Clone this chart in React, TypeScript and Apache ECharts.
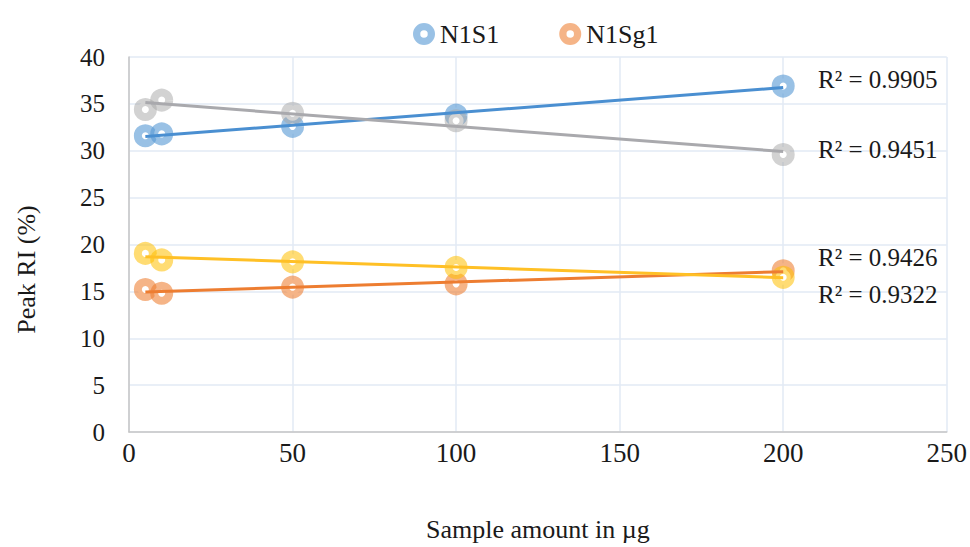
import React, { useEffect, useRef } from "react";
import * as echarts from "echarts";

const xValues = [5, 10, 50, 100, 200];
const n1s1 = [31.6, 31.8, 32.6, 33.8, 36.9];
const n1sg1 = [15.2, 14.8, 15.45, 15.8, 17.2];
const series3 = [34.4, 35.4, 34.0, 33.2, 29.6];
const series4 = [19.05, 18.35, 18.15, 17.55, 16.5];
const r2Labels = ["R² = 0.9905", "R² = 0.9451", "R² = 0.9426", "R² = 0.9322"];
const xTicks = { min: 0, max: 250, interval: 50 };
const yTicks = { min: 0, max: 40, interval: 5 };

const FONT = "Liberation Serif";

function trend(xs: number[], ys: number[]) {
  const n = xs.length;
  const mx = xs.reduce((a, b) => a + b, 0) / n;
  const my = ys.reduce((a, b) => a + b, 0) / n;
  let sxy = 0, sxx = 0;
  for (let i = 0; i < n; i++) {
    sxy += (xs[i] - mx) * (ys[i] - my);
    sxx += (xs[i] - mx) * (xs[i] - mx);
  }
  const b = sxy / sxx;
  const a = my - b * mx;
  const x0 = Math.min(...xs), x1 = Math.max(...xs);
  return [[x0, a + b * x0], [x1, a + b * x1]];
}

const ringPath =
  "path://M0,-10A10,10 0 1,1 0,10A10,10 0 1,1 0,-10ZM0,-3.4A3.4,3.4 0 1,0 0,3.4A3.4,3.4 0 1,0 0,-3.4Z";

export default function App() {
  const ref = useRef<HTMLDivElement>(null);
  useEffect(() => {
    if (!ref.current) return;
    const chart = echarts.init(ref.current, undefined, { renderer: "svg" });
    const defs = [
      { name: "N1S1", ys: n1s1, ring: "rgba(91,155,213,0.62)", line: "#4a8fd1" },
      { name: "N1Sg1", ys: n1sg1, ring: "rgba(237,125,49,0.58)", line: "#ed7d31" },
      { name: "Series 3", ys: series3, ring: "rgba(165,165,165,0.5)", line: "#a9a9ad" },
      { name: "Series 4", ys: series4, ring: "rgba(255,192,0,0.55)", line: "#ffc026" },
    ];
    const scatter = defs.map((d) => ({
      name: d.name,
      type: "scatter",
      symbol: "circle",
      symbolSize: 15,
      itemStyle: { color: "#ffffff", borderColor: d.ring, borderWidth: 8, opacity: 1 },
      data: xValues.map((x, i) => [x, d.ys[i]]),
      z: 2,
    }));
    const lines = defs.map((d) => ({
      name: d.name + " trend",
      type: "line",
      showSymbol: false,
      symbol: "none",
      lineStyle: { color: d.line, width: 3 },
      data: trend(xValues, d.ys),
      z: 3,
      silent: true,
    }));
    const r2Y = [80, 150, 258, 295];
    chart.setOption({
      animation: false,
      textStyle: { fontFamily: FONT },
      legend: {
        left: 408,
        top: 16,
        itemWidth: 22,
        itemHeight: 22,
        itemGap: 60,
        textStyle: { fontFamily: FONT, fontSize: 26, color: "#1a1a1a" },
        data: [
          { name: "N1S1", icon: ringPath, itemStyle: { color: "rgba(91,155,213,0.62)", borderWidth: 0 } },
          { name: "N1Sg1", icon: ringPath, itemStyle: { color: "rgba(237,125,49,0.58)", borderWidth: 0 } },
        ],
      },
      grid: { left: 129, right: 23, top: 57, bottom: 115, containLabel: false },
      xAxis: {
        type: "value",
        min: xTicks.min,
        max: xTicks.max,
        interval: xTicks.interval,
        name: "Sample amount in µg",
        nameLocation: "middle",
        nameGap: 84,
        nameTextStyle: { fontFamily: FONT, fontSize: 26, color: "#1a1a1a" },
        axisLine: { show: true, lineStyle: { color: "#c6c6c6", width: 1.5 } },
        axisTick: { show: false },
        axisLabel: { fontFamily: FONT, fontSize: 27, color: "#1a1a1a", margin: 7 },
        splitLine: { show: true, lineStyle: { color: "#e2eaf4", width: 1.5 } },
      },
      yAxis: {
        type: "value",
        min: yTicks.min,
        max: yTicks.max,
        interval: yTicks.interval,
        name: "Peak RI (%)",
        nameLocation: "middle",
        nameRotate: 90,
        nameGap: 90,
        nameTextStyle: { fontFamily: FONT, fontSize: 26, color: "#1a1a1a", padding: [0, 50, 0, 0] },
        axisLine: { show: true, lineStyle: { color: "#c6c6c6", width: 1.5 } },
        axisTick: { show: false },
        axisLabel: { fontFamily: FONT, fontSize: 25, color: "#1a1a1a", margin: 24 },
        splitLine: { show: true, lineStyle: { color: "#e2eaf4", width: 1.5 } },
      },
      graphic: r2Labels.map((t, i) => ({
        type: "text",
        left: 818,
        top: r2Y[i] - 13,
        style: { text: t, fontFamily: FONT, fontSize: 25, fill: "#1a1a1a" },
        z: 10,
      })),
      series: [...scatter, ...lines],
    });
    return () => chart.dispose();
  }, []);
  return <div ref={ref} style={{ width: 970, height: 547, position: "absolute", left: 0, top: 0, background: "#fff" }} />;
}
